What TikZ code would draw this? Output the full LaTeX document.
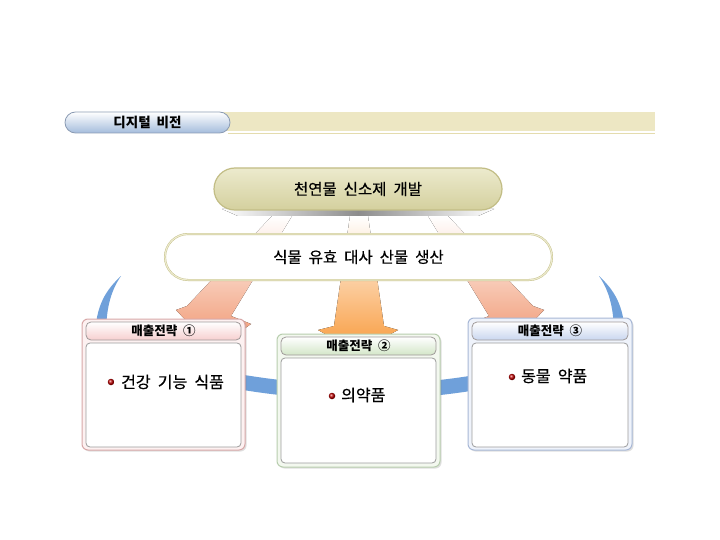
\documentclass[tikz,border=0pt]{standalone}
\usepackage{fontspec}
\setmainfont{Noto Sans CJK KR}
\newfontfamily\krmed{Noto Sans CJK KR}[FakeBold=0.6]
\usetikzlibrary{shadows}
\newcommand\widesp{\spaceskip=0.45em\relax}
\definecolor{bluering}{HTML}{6FA0DA}
\definecolor{salmon}{HTML}{F0926A}
\definecolor{orng}{HTML}{F89A3C}
\definecolor{beige}{HTML}{EDE7C3}
\definecolor{beigeline}{HTML}{E4DCAE}
\definecolor{olive}{HTML}{C2BD85}
\definecolor{olivetop}{HTML}{ECEACD}
\definecolor{olivemid}{HTML}{D4D09E}
\definecolor{visblue}{HTML}{A4BCDC}
\definecolor{visedge}{HTML}{8C9CB4}
\definecolor{pinkfill}{HTML}{FDF1F1}
\definecolor{pinkedge}{HTML}{D8A8A8}
\definecolor{pinkhead}{HTML}{F6CFCF}
\definecolor{greenfill}{HTML}{F3F8EF}
\definecolor{greenedge}{HTML}{B8CEAE}
\definecolor{greenhead}{HTML}{D3E6C8}
\definecolor{bluefill}{HTML}{EFF3FB}
\definecolor{blueedge}{HTML}{A8B8D6}
\definecolor{bluehead}{HTML}{C9D6EF}
\definecolor{headedge}{HTML}{A09A9A}
\definecolor{bodyedge}{HTML}{9C9C9C}
\tikzset{
  frame/.style={rounded corners=6pt, line width=1pt, inner sep=0pt,
    drop shadow={shadow xshift=1.5pt, shadow yshift=-1.5pt, opacity=0.25}},
  headbar/.style={rounded corners=5pt, draw=headedge, line width=0.8pt, inner sep=0pt,
    top color=white, font=\bfseries\fontsize{12.5}{13}\selectfont},
  bodybox/.style={rounded corners=4pt, draw=bodyedge, fill=white, line width=0.8pt, inner sep=0pt},
  bullet/.style={circle, shading=ball, ball color=red!75!black, minimum size=6.5pt, inner sep=0pt},
  itemtext/.style={anchor=west, inner sep=0pt, font=\krmed\fontsize{16}{17}\selectfont},
  pilltext/.style={font=\krmed\fontsize{15.5}{16}\selectfont},
  arrowfill/.style={shading=axis, top color=white},
}
\begin{document}
\begin{tikzpicture}[x=1pt, y=-1pt]
\useasboundingbox[fill=white] (0,0) rectangle (720,540);

% title bar
\fill[beige] (215,112) rectangle (655,131);
\draw[beigeline, line width=1.5pt] (228,133.5) -- (655,133.5);
\node[rounded corners=10.5pt, draw=visedge, line width=0.8pt, top color=white, bottom color=visblue,
  minimum width=165pt, minimum height=21pt, inner sep=0pt,
  font=\bfseries\fontsize{13.5}{14}\selectfont] (vision) at (147.5,122.5) {\widesp 디지털 비전};

% blue ring pieces
\fill[bluering] (121,276) .. controls (106,290) and (96,305) .. (95,336)
   -- (106,336) .. controls (106,310) and (110,292) .. (121,276) -- cycle;
\fill[bluering] (599,276) .. controls (614,290) and (624,305) .. (625,336)
   -- (614,336) .. controls (614,310) and (610,292) .. (599,276) -- cycle;
\draw[bluering, line width=15pt] (200,374) .. controls (306.7,398) and (413.3,398) .. (520,374);

% arrows
\fill[arrowfill, middle color=salmon, bottom color=salmon]
  (272,216) -- (292,216) -- (231,316) -- (251,324) -- (214,350) -- (176,310) -- (187,306) -- cycle;
\fill[arrowfill, middle color=salmon, bottom color=salmon]
  (448,216) -- (428,216) -- (489,316) -- (469,324) -- (506,350) -- (544,310) -- (533,306) -- cycle;
\fill[arrowfill, middle color=orng, bottom color=orng]
  (350,216) -- (368,216) -- (384,326) -- (398,330) -- (358,352) -- (318,330) -- (334,326) -- cycle;

% shadow under top pill
\fill[left color=white, right color=white, middle color=black!45]
  (222,209) -- (494,209) -- (478,216) -- (238,216) -- cycle;

% top pill
\node[rounded corners=21pt, draw=olive, line width=1.2pt, top color=olivetop, bottom color=olivemid,
  minimum width=288pt, minimum height=42pt, inner sep=0pt, pilltext] (develop) at (358,189) {\widesp 천연물 신소제 개발};

% second pill
\node[rounded corners=23pt, draw=olive, double=olivetop, double distance=1.2pt, fill=white,
  minimum width=387pt, minimum height=46pt, inner sep=0pt, pilltext] (produce) at (358.5,257) {\widesp 식물 유효 대사 산물 생산};

% box 1
\node[frame, draw=pinkedge, fill=pinkfill, minimum width=163pt, minimum height=131pt] (f1) at (163.5,384.5) {};
\node[headbar, bottom color=pinkhead, minimum width=155pt, minimum height=18pt] (h1) at (163.5,331) {\widesp 매출전략 ①};
\node[bodybox, minimum width=155pt, minimum height=104pt] (g1) at (163.5,395) {};
\node[bullet] (b1) at (111,382) {};
\node[itemtext] (t1) at (121,382) {\widesp 건강 기능 식품};

% box 2
\node[frame, draw=greenedge, fill=greenfill, minimum width=163pt, minimum height=133pt] (f2) at (358.5,400.5) {};
\node[headbar, bottom color=greenhead, minimum width=155pt, minimum height=18pt] (h2) at (358.5,346) {\widesp 매출전략 ②};
\node[bodybox, minimum width=155pt, minimum height=105pt] (g2) at (358.5,410.5) {};
\node[bullet] (b2) at (332,396) {};
\node[itemtext] (t2) at (341,395) {의약품};

% box 3
\node[frame, draw=blueedge, fill=bluefill, minimum width=164pt, minimum height=132pt] (f3) at (550,384) {};
\node[headbar, bottom color=bluehead, minimum width=156pt, minimum height=18pt] (h3) at (550,331) {\widesp 매출전략 ③};
\node[bodybox, minimum width=156pt, minimum height=104pt] (g3) at (550,395) {};
\node[bullet] (b3) at (512,377) {};
\node[itemtext] (t3) at (521,376) {\widesp 동물 약품};
\end{tikzpicture}
\end{document}
